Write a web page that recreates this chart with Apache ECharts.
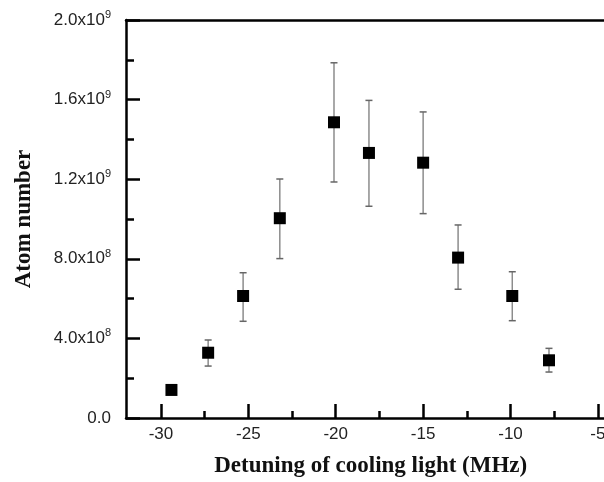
<!DOCTYPE html>
<html>
<head>
<meta charset="utf-8">
<script src="https://cdn.jsdelivr.net/npm/echarts@6/dist/echarts.min.js"></script>
<style>html,body{margin:0;padding:0;background:#fff;}#c{width:604px;height:482px;}</style>
</head>
<body>
<div id="c"></div>
<script>
// ---- data ----
const detuning   = [-29.4, -27.3, -25.3, -23.2, -20.1, -18.1, -15.0, -13.0, -9.9, -7.8];
const atomNumber = [1.41e8, 3.28e8, 6.13e8, 1.004e9, 1.486e9, 1.332e9, 1.283e9, 8.06e8, 6.13e8, 2.90e8];
const errUpper   = [1.55e8, 3.92e8, 7.30e8, 1.201e9, 1.785e9, 1.596e9, 1.538e9, 9.70e8, 7.35e8, 3.50e8];
const errLower   = [1.27e8, 2.61e8, 4.86e8, 8.01e8, 1.186e9, 1.064e9, 1.027e9, 6.47e8, 4.89e8, 2.31e8];
const xMajorTicks = [-30, -25, -20, -15, -10, -5];
const xMinorTicks = [-27.5, -22.5, -17.5, -12.5, -7.5];
const yTickMantissa = ['0.0', '4.0', '8.0', '1.2', '1.6', '2.0'];
const yTickExponent = ['', '8', '8', '9', '9', '9'];
const xTitle = 'Detuning of cooling light (MHz)';
const yTitle = 'Atom number';

const chart = echarts.init(document.getElementById('c'), null, {renderer: 'canvas'});
const axisColor = '#000';
const labelFont = 'Liberation Sans, Arial, sans-serif';
const titleFont = 'Liberation Serif, Times New Roman, serif';

const points = detuning.map((x, i) => [x, atomNumber[i]]);
const bars = detuning.map((x, i) => [x, errLower[i], errUpper[i]]);

chart.setOption({
  animation: false,
  backgroundColor: '#fff',
  grid: {left: 126, top: 20, width: 489.4, height: 398, containLabel: false, outerBoundsMode: 'none'},
  xAxis: [
    {
      type: 'value', min: -32, max: -4, position: 'bottom',
      name: xTitle, nameLocation: 'middle', nameGap: 37,
      nameTextStyle: {fontFamily: titleFont, fontWeight: 'bold', fontSize: 23, color: '#111'},
      axisLine: {show: true, onZero: false, lineStyle: {color: axisColor, width: 2.5}},
      axisTick: {show: true, inside: true, length: 14, customValues: xMajorTicks, lineStyle: {color: axisColor, width: 2.5}},
      axisLabel: {customValues: xMajorTicks, margin: 8, fontFamily: labelFont, fontSize: 17, color: '#222', hideOverlap: false},
      splitLine: {show: false}
    },
    {
      type: 'value', min: -32, max: -4, position: 'bottom',
      axisLine: {show: false, onZero: false},
      axisTick: {show: true, inside: true, length: 7, customValues: xMinorTicks, lineStyle: {color: axisColor, width: 2.5}},
      axisLabel: {show: false},
      splitLine: {show: false}
    },
    {
      type: 'value', min: -32, max: -4, position: 'top',
      axisLine: {show: true, onZero: false, lineStyle: {color: axisColor, width: 2.5}},
      axisTick: {show: false}, axisLabel: {show: false}, splitLine: {show: false}
    }
  ],
  yAxis: {
    type: 'value', min: 0, max: 2e9, interval: 4e8,
    name: yTitle, nameLocation: 'middle', nameGap: 90, nameRotate: 90,
    nameTextStyle: {fontFamily: titleFont, fontWeight: 'bold', fontSize: 23, color: '#111'},
    axisLine: {show: true, onZero: false, lineStyle: {color: axisColor, width: 2.5}},
    axisTick: {show: true, inside: true, length: 14, lineStyle: {color: axisColor, width: 2.5}},
    minorTick: {show: true, splitNumber: 2, length: 8, lineStyle: {color: axisColor, width: 2.5}},
    axisLabel: {
      margin: 15,
      formatter: function (v) {
        const idx = Math.round(v / 4e8);
        const e = yTickExponent[idx];
        return e ? '{a|' + yTickMantissa[idx] + 'x10}{s|' + e + '}' : '{a|' + yTickMantissa[idx] + '}';
      },
      rich: {
        a: {fontFamily: labelFont, fontSize: 17, color: '#222'},
        s: {fontFamily: labelFont, fontSize: 11, color: '#222', padding: [0, 0, 10, 0]}
      }
    },
    splitLine: {show: false}
  },
  series: [
    {
      type: 'custom', xAxisIndex: 0, yAxisIndex: 0, z: 2,
      data: bars,
      renderItem: function (params, api) {
        const x = api.value(0);
        const lo = api.coord([x, api.value(1)]);
        const hi = api.coord([x, api.value(2)]);
        const w = 3.5;
        const st = {stroke: '#8c8c8c', lineWidth: 1.5};
        return {
          type: 'group',
          children: [
            {type: 'line', shape: {x1: lo[0], y1: lo[1], x2: hi[0], y2: hi[1]}, style: st},
            {type: 'line', shape: {x1: hi[0] - w, y1: hi[1], x2: hi[0] + w, y2: hi[1]}, style: {stroke: '#666', lineWidth: 1.5}},
            {type: 'line', shape: {x1: lo[0] - w, y1: lo[1], x2: lo[0] + w, y2: lo[1]}, style: {stroke: '#666', lineWidth: 1.5}}
          ]
        };
      }
    },
    {
      type: 'scatter', xAxisIndex: 0, yAxisIndex: 0, z: 3,
      symbol: 'rect', symbolSize: 12,
      itemStyle: {color: '#000', opacity: 1},
      data: points
    }
  ]
});
</script>
</body>
</html>
